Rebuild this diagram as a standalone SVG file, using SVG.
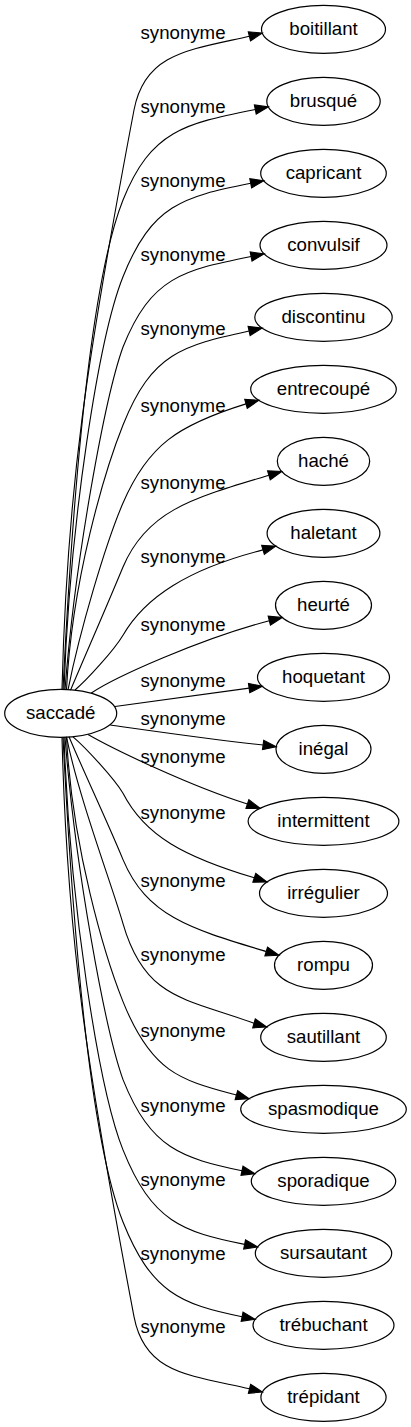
<svg xmlns="http://www.w3.org/2000/svg" width="411" height="1427" viewBox="0 0 411 1427">
<style>
.n ellipse{fill:none;stroke:#000;stroke-width:1.2}
.e path{fill:none;stroke:#000;stroke-width:1.1}
.e polygon{fill:#000;stroke:#000;stroke-width:1.1}
text{font-family:"Liberation Sans",Arial,sans-serif;font-size:18.67px;text-anchor:middle;fill:#000}
</style>
<rect width="411" height="1427" fill="#fff"/>
<g id="edges">
<g class="e" id="e0"><path d="M62,689.3 C67,489.3 86.5,360 134,110 C144.8,53.3 188.2,50 249.4,36.3"/><polygon points="262.3,33.1 250.53,40.83 248.27,31.77"/><text x="183" y="39.2">synonyme</text></g>
<g class="e" id="e1"><path d="M63,689.4 C73,489.4 91,280 123,200 C151,130 185.3,123.5 255.3,109.5"/><polygon points="268.4,106.9 256.22,114.08 254.38,104.92"/><text x="183" y="112.6">synonyme</text></g>
<g class="e" id="e2"><path d="M64,689.5 C70,519.5 99,336.7 123,276.7 C151.8,204.7 183,196.8 250.7,183.3"/><polygon points="263.8,180.7 251.62,187.88 249.78,178.72"/><text x="183" y="186.6">synonyme</text></g>
<g class="e" id="e3"><path d="M65,689.6 C75,560 105,397 123,347 C151,277 182.8,270.2 251.1,256.5"/><polygon points="264.2,253.9 252.02,261.08 250.18,251.92"/><text x="183" y="260.9">synonyme</text></g>
<g class="e" id="e4"><path d="M66.5,689.7 C72,579.7 105,470 123,425 C151.8,353 182.1,345.7 249.1,331"/><polygon points="262.15,328.1 250.1,335.56 248.1,326.44"/><text x="183" y="334.9">synonyme</text></g>
<g class="e" id="e5"><path d="M68,689.9 C80,629.9 105.8,543 123,503 C148,445 178,425 246,403.9"/><polygon points="258.8,400.3 247.26,408.4 244.74,399.4"/><text x="183" y="411.6">synonyme</text></g>
<g class="e" id="e6"><path d="M70.5,690.3 C88,649 106,608 123,567 C147,510 193.9,497.8 268.9,475.3"/><polygon points="281.7,471.5 270.24,479.77 267.56,470.83"/><text x="183" y="489.2">synonyme</text></g>
<g class="e" id="e7"><path d="M75,690 C87,680 114,650.2 123,635.2 C145,597.2 188,569 263,549.9"/><polygon points="275.8,546.1 264.34,554.37 261.66,545.43"/><text x="183" y="562.6">synonyme</text></g>
<g class="e" id="e8"><path d="M91,693.2 C115,677 200,639 269.3,620.7"/><polygon points="282.2,617.5 270.43,625.23 268.17,616.17"/><text x="183" y="631.4">synonyme</text></g>
<g class="e" id="e9"><path d="M115,706.5 C160,700 205,694 249.1,688.1"/><polygon points="262.3,686.3 249.75,692.72 248.45,683.48"/><text x="183" y="687.4">synonyme</text></g>
<g class="e" id="e10"><path d="M110.2,725 C160,732 215,740 263.1,745"/><polygon points="276.3,746.7 262.49,749.63 263.71,740.37"/><text x="183" y="725.4">synonyme</text></g>
<g class="e" id="e11"><path d="M88,734.6 C115,750 190,786 247.4,804.1"/><polygon points="260.1,808.3 245.94,808.53 248.86,799.67"/><text x="183" y="762.9">synonyme</text></g>
<g class="e" id="e12"><path d="M73,736.8 C85,746.8 114,778.2 123,793.2 C145,836 184.3,856.8 254.3,877.8"/><polygon points="267,882 252.84,882.23 255.76,873.37"/><text x="183" y="819.2">synonyme</text></g>
<g class="e" id="e13"><path d="M69,736.7 C86.5,778 106,818.6 123,859.6 C147,916.6 191.2,929 266.2,951.5"/><polygon points="279,955.3 264.86,955.97 267.54,947.03"/><text x="183" y="887.2">synonyme</text></g>
<g class="e" id="e14"><path d="M66.5,736.8 C78.5,796.8 111.4,883.6 123,923.6 C145,1000 186,998 254,1023.3"/><polygon points="266.8,1027 252.7,1027.79 255.3,1018.81"/><text x="183" y="960.6">synonyme</text></g>
<g class="e" id="e15"><path d="M66.5,736.9 C72,846.9 105,956.6 123,1001.6 C151.8,1073.6 181.4,1080.1 236.4,1095.1"/><polygon points="249.2,1098.7 235.14,1099.6 237.66,1090.6"/><text x="183" y="1036.6">synonyme</text></g>
<g class="e" id="e16"><path d="M65,737 C75,866.6 105,1029.6 123,1079.6 C151,1149.6 182,1157.8 242,1170.8"/><polygon points="255,1173.7 241,1175.36 243,1166.24"/><text x="183" y="1111.9">synonyme</text></g>
<g class="e" id="e17"><path d="M64,737.1 C70,907.1 99,1089.9 123,1149.9 C151.8,1221.9 182.6,1232 244.6,1244.4"/><polygon points="257.7,1247 243.68,1248.98 245.52,1239.82"/><text x="183" y="1186.2">synonyme</text></g>
<g class="e" id="e18"><path d="M63,737.2 C73,937.2 91,1142 123,1222 C151,1292 180.1,1304.3 242.1,1316.7"/><polygon points="255.2,1319.3 241.18,1321.28 243.02,1312.12"/><text x="183" y="1259.6">synonyme</text></g>
<g class="e" id="e19"><path d="M62,737.3 C67,937.3 86.5,1066.6 134,1316.6 C144.8,1373.3 188.2,1375 249.5,1388.8"/><polygon points="262.45,1392 248.37,1393.33 250.63,1384.27"/><text x="183" y="1332.6">synonyme</text></g>
</g>
<g id="nodes">
<g class="n" id="saccade"><ellipse cx="60.7" cy="713.3" rx="56" ry="24"/><text x="60.7" y="718.9">saccadé</text></g>
<g class="n" id="boitillant"><ellipse cx="323.5" cy="29.3" rx="62" ry="24"/><text x="323.5" y="34.9">boitillant</text></g>
<g class="n" id="brusque"><ellipse cx="323.5" cy="101.3" rx="56.7" ry="24"/><text x="323.5" y="106.9">brusqué</text></g>
<g class="n" id="capricant"><ellipse cx="323.5" cy="173.3" rx="62.8" ry="24"/><text x="323.5" y="178.9">capricant</text></g>
<g class="n" id="convulsif"><ellipse cx="323.5" cy="245.3" rx="63.5" ry="24"/><text x="323.5" y="250.9">convulsif</text></g>
<g class="n" id="discontinu"><ellipse cx="323.5" cy="317.3" rx="68.7" ry="24"/><text x="323.5" y="322.9">discontinu</text></g>
<g class="n" id="entrecoupe"><ellipse cx="323.5" cy="389.3" rx="72.8" ry="24"/><text x="323.5" y="394.9">entrecoupé</text></g>
<g class="n" id="hache"><ellipse cx="323.5" cy="461.3" rx="46.2" ry="24"/><text x="323.5" y="466.9">haché</text></g>
<g class="n" id="haletant"><ellipse cx="323.5" cy="533.3" rx="56.4" ry="24"/><text x="323.5" y="538.9">haletant</text></g>
<g class="n" id="heurte"><ellipse cx="323.5" cy="605.3" rx="48" ry="24"/><text x="323.5" y="610.9">heurté</text></g>
<g class="n" id="hoquetant"><ellipse cx="323.5" cy="677.3" rx="66" ry="24"/><text x="323.5" y="682.9">hoquetant</text></g>
<g class="n" id="inegal"><ellipse cx="323.5" cy="749.3" rx="47.5" ry="24"/><text x="323.5" y="754.9">inégal</text></g>
<g class="n" id="intermittent"><ellipse cx="323.5" cy="821.3" rx="75.4" ry="24"/><text x="323.5" y="826.9">intermittent</text></g>
<g class="n" id="irregulier"><ellipse cx="323.5" cy="893.3" rx="64" ry="24"/><text x="323.5" y="898.9">irrégulier</text></g>
<g class="n" id="rompu"><ellipse cx="323.5" cy="965.3" rx="49" ry="24"/><text x="323.5" y="970.9">rompu</text></g>
<g class="n" id="sautillant"><ellipse cx="323.5" cy="1037.3" rx="62.8" ry="24"/><text x="323.5" y="1042.9">sautillant</text></g>
<g class="n" id="spasmodique"><ellipse cx="323.5" cy="1109.3" rx="82.8" ry="24"/><text x="323.5" y="1114.9">spasmodique</text></g>
<g class="n" id="sporadique"><ellipse cx="323.5" cy="1181.3" rx="72.2" ry="24"/><text x="323.5" y="1186.9">sporadique</text></g>
<g class="n" id="sursautant"><ellipse cx="323.5" cy="1253.3" rx="68.2" ry="24"/><text x="323.5" y="1258.9">sursautant</text></g>
<g class="n" id="trebuchant"><ellipse cx="323.5" cy="1325.3" rx="70.5" ry="24"/><text x="323.5" y="1330.9">trébuchant</text></g>
<g class="n" id="trepidant"><ellipse cx="323.5" cy="1397.3" rx="62.6" ry="24"/><text x="323.5" y="1402.9">trépidant</text></g>
</g>
</svg>
